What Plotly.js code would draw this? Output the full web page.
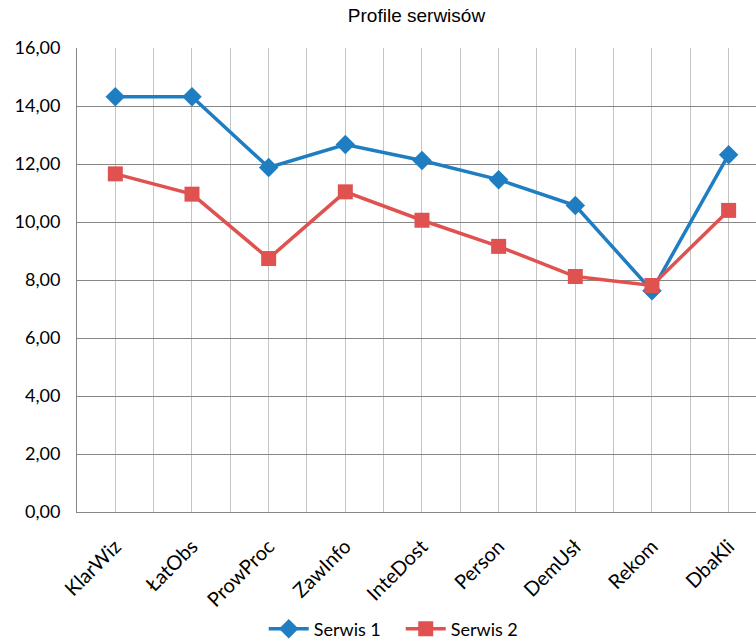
<!DOCTYPE html>
<html>
<head>
<meta charset="utf-8">
<script src="https://cdn.plot.ly/plotly-3.0.1.min.js"></script>
<style>html,body{margin:0;padding:0;background:#fff;}#chart{width:756px;height:641px;}</style>
</head>
<body>
<div id="chart"></div>
<script>
const categories = ["KlarWiz", "ŁatObs", "ProwProc", "ZawInfo", "InteDost", "Person", "DemUsł", "Rekom", "DbaKli"];
const serwis1 = [14.32, 14.32, 11.88, 12.67, 12.12, 11.46, 10.57, 7.63, 12.32];
const serwis2 = [11.66, 10.96, 8.74, 11.04, 10.06, 9.16, 8.12, 7.81, 10.40];
const seriesNames = ["Serwis 1", "Serwis 2"];

const idx = categories.map((_, i) => i);

const traces = [
  {
    x: idx, y: serwis1, name: seriesNames[0], type: "scatter", mode: "lines+markers",
    line: {color: "#1f7dc1", width: 3.5},
    marker: {symbol: "diamond", size: 15, color: "#1f7dc1"}
  },
  {
    x: idx, y: serwis2, name: seriesNames[1], type: "scatter", mode: "lines+markers",
    line: {color: "#e0524f", width: 3.5},
    marker: {symbol: "square", size: 15, color: "#e0524f"}
  }
];

const layout = {
  width: 756, height: 641,
  margin: {l: 77, r: 0, t: 48, b: 129, autoexpand: false},
  paper_bgcolor: "#fff", plot_bgcolor: "#fff",
  separators: ",.",
  title: {text: "Profile serwisów", x: 0.5, xref: "paper", xanchor: "center", y: 1, yref: "container", yanchor: "top", pad: {t: 9},
          font: {family: "Liberation Sans, Arial, sans-serif", size: 19, color: "#000"}},
  showlegend: true,
  legend: {orientation: "h", x: 0.275, xanchor: "left", y: -0.252, yanchor: "middle",
           font: {family: "Lato, sans-serif", size: 18, color: "#000"}, itemwidth: 40, tracegroupgap: 0,
           entrywidth: 82, entrywidthmode: "pixels"},
  xaxis: {
    range: [-0.5, 8.357], tickmode: "array", tickvals: idx, ticktext: categories,
    tickangle: -45, showgrid: true, gridcolor: "#c4c4c4", gridwidth: 1,
    minor: {tickmode: "linear", tick0: -0.5, dtick: 1, showgrid: true, gridcolor: "#c4c4c4", gridwidth: 1},
    showline: true, linecolor: "#868686", linewidth: 1, zeroline: false, ticks: "",
    ticklabelstandoff: 14, automargin: false,
    tickfont: {family: "Lato, sans-serif", size: 20, color: "#000"}, fixedrange: true
  },
  yaxis: {
    range: [0, 16], dtick: 2, tick0: 0, tickformat: ".2f",
    showgrid: true, gridcolor: "#868686", gridwidth: 1,
    showline: true, linecolor: "#868686", linewidth: 1, zeroline: false, ticks: "",
    ticklabelstandoff: 12, automargin: false,
    tickfont: {family: "Lato, sans-serif", size: 18, color: "#000"}, fixedrange: true
  }
};

Plotly.newPlot("chart", traces, layout, {displayModeBar: false, staticPlot: true});
</script>
</body>
</html>
